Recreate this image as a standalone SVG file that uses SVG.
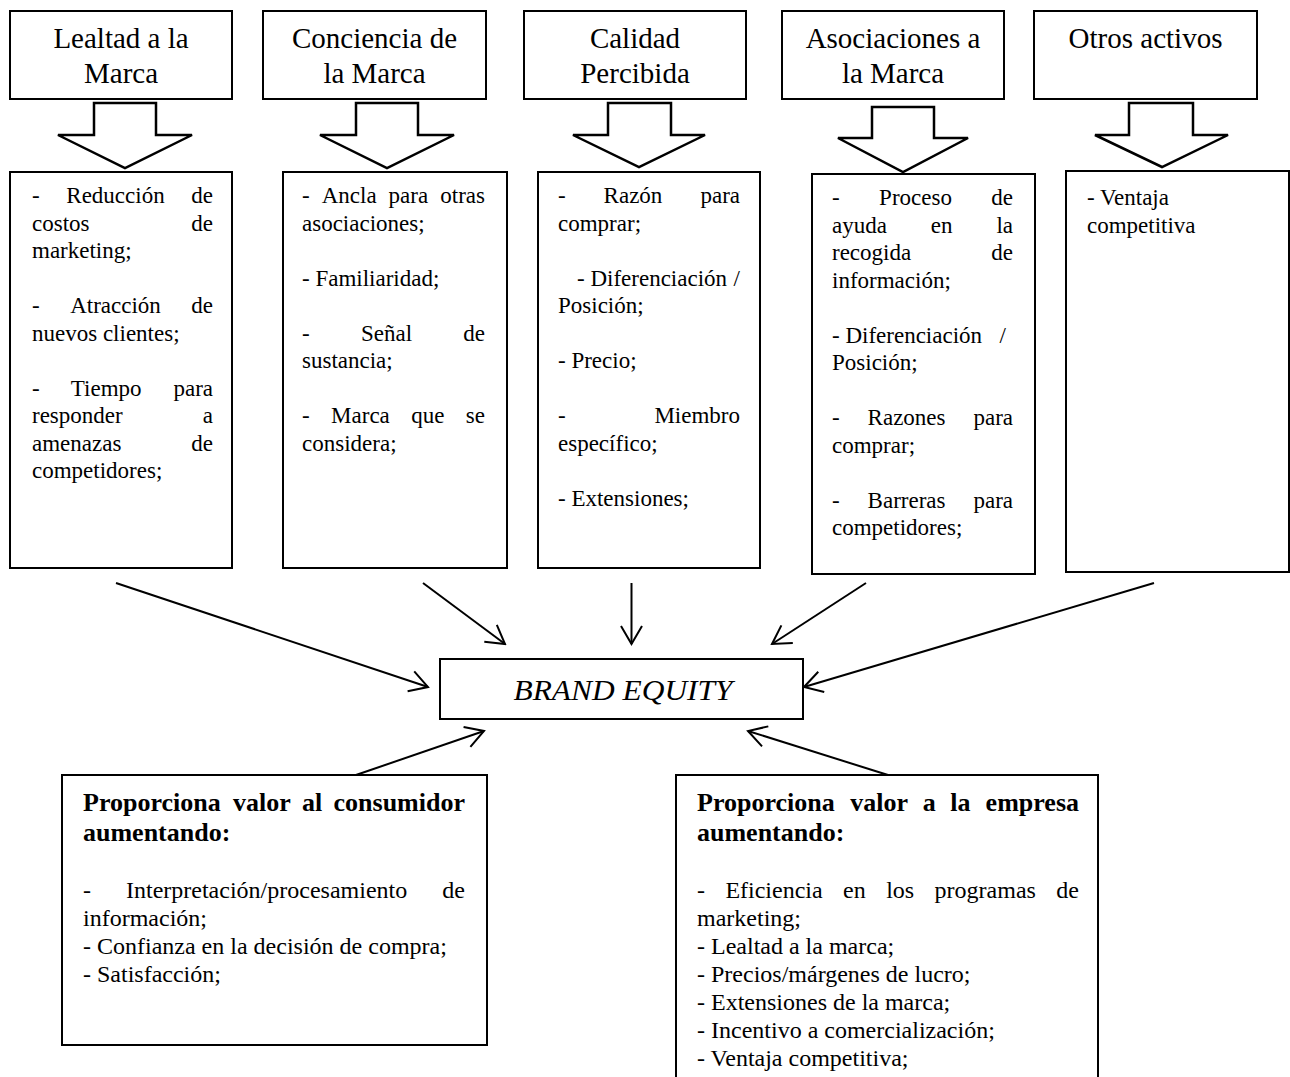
<svg xmlns="http://www.w3.org/2000/svg" width="1290" height="1077" viewBox="0 0 1290 1077">
  <style>
    text { font-family: "Liberation Serif", "Times New Roman", serif; fill: #000; }
    .title { font-size: 29px; text-anchor: middle; }
    .body { font-size: 23px; }
    .body2 { font-size: 24px; }
    .head { font-size: 26px; font-weight: bold; }
    .end { text-anchor: end; }
    .box { fill: #fff; stroke: #000; stroke-width: 2; }
    .blk { fill: #fff; stroke: #000; stroke-width: 2.5; stroke-linejoin: miter; }
    .con { fill: none; stroke: #000; stroke-width: 2; marker-end: url(#open); }
    .equity { font-size: 30px; font-style: italic; text-anchor: middle; }
  </style>
  <defs>
    <marker id="open" markerUnits="userSpaceOnUse" viewBox="0 0 22 26" refX="20" refY="13" markerWidth="22" markerHeight="26" orient="auto">
      <path d="M2,2.5 L20,13 L2,23.5" fill="none" stroke="#000" stroke-width="2"/>
    </marker>
  </defs>
  <rect width="1290" height="1077" fill="#fff"/>

  <!-- Column 1: Lealtad a la Marca -->
  <g id="lealtad">
    <rect class="box" x="10" y="11" width="222" height="88"/>
    <text class="title" x="121" y="48">Lealtad a la</text>
    <text class="title" x="121" y="83">Marca</text>
    <polygon class="blk" points="94,103 156,103 156,135 192,135 125,168 58,135 94,135"/>
    <rect class="box" x="10" y="172" width="222" height="396"/>
    <g class="body">
      <text x="32" y="203">-</text><text x="66.3" y="203">Reducción</text><text class="end" x="213" y="203">de</text>
      <text x="32" y="230.5">costos</text><text class="end" x="213" y="230.5">de</text>
      <text x="32" y="258">marketing;</text>
      <text x="32" y="313">-</text><text x="70.2" y="313">Atracción</text><text class="end" x="213" y="313">de</text>
      <text x="32" y="340.5">nuevos clientes;</text>
      <text x="32" y="395.5">-</text><text x="70.8" y="395.5">Tiempo</text><text class="end" x="213" y="395.5">para</text>
      <text x="32" y="423">responder</text><text class="end" x="213" y="423">a</text>
      <text x="32" y="450.5">amenazas</text><text class="end" x="213" y="450.5">de</text>
      <text x="32" y="478">competidores;</text>
    </g>
  </g>

  <!-- Column 2: Conciencia de la Marca -->
  <g id="conciencia">
    <rect class="box" x="263" y="11" width="223" height="88"/>
    <text class="title" x="374.5" y="48">Conciencia de</text>
    <text class="title" x="374.5" y="83">la Marca</text>
    <polygon class="blk" points="356,103 418,103 418,135 454,135 387,168 320,135 356,135"/>
    <rect class="box" x="283" y="172" width="224" height="396"/>
    <g class="body">
      <text x="302" y="203">-</text><text x="321.7" y="203">Ancla</text><text x="388.6" y="203">para</text><text class="end" x="485" y="203">otras</text>
      <text x="302" y="230.5">asociaciones;</text>
      <text x="302" y="285.5">- Familiaridad;</text>
      <text x="302" y="340.5">-</text><text x="361" y="340.5">Señal</text><text class="end" x="485" y="340.5">de</text>
      <text x="302" y="368">sustancia;</text>
      <text x="302" y="423">-</text><text x="331.1" y="423">Marca</text><text x="411.2" y="423">que</text><text class="end" x="485" y="423">se</text>
      <text x="302" y="450.5">considera;</text>
    </g>
  </g>

  <!-- Column 3: Calidad Percibida -->
  <g id="calidad">
    <rect class="box" x="524" y="11" width="222" height="88"/>
    <text class="title" x="635" y="48">Calidad</text>
    <text class="title" x="635" y="83">Percibida</text>
    <polygon class="blk" points="608,103 671,103 671,135 705,135 639,167 573,135 608,135"/>
    <rect class="box" x="538" y="172" width="222" height="396"/>
    <g class="body">
      <text x="558" y="203">-</text><text x="603.6" y="203">Razón</text><text class="end" x="740" y="203">para</text>
      <text x="558" y="230.5">comprar;</text>
      <text x="577" y="285.5">- Diferenciación</text><text class="end" x="740" y="285.5">/</text>
      <text x="558" y="313">Posición;</text>
      <text x="558" y="368">- Precio;</text>
      <text x="558" y="423">-</text><text class="end" x="740" y="423">Miembro</text>
      <text x="558" y="450.5">específico;</text>
      <text x="558" y="505.5">- Extensiones;</text>
    </g>
  </g>

  <!-- Column 4: Asociaciones a la Marca -->
  <g id="asociaciones">
    <rect class="box" x="782" y="11" width="222" height="88"/>
    <text class="title" x="893" y="48">Asociaciones a</text>
    <text class="title" x="893" y="83">la Marca</text>
    <polygon class="blk" points="872,107 934,107 934,138 968,138 903,172 838,138 872,138"/>
    <rect class="box" x="812" y="174" width="223" height="400"/>
    <g class="body">
      <text x="832" y="205">-</text><text x="879.1" y="205">Proceso</text><text class="end" x="1013" y="205">de</text>
      <text x="832" y="232.5">ayuda</text><text x="930.8" y="232.5">en</text><text class="end" x="1013" y="232.5">la</text>
      <text x="832" y="260">recogida</text><text class="end" x="1013" y="260">de</text>
      <text x="832" y="287.5">información;</text>
      <text x="832" y="342.5">- Diferenciación</text><text class="end" x="1006" y="342.5">/</text>
      <text x="832" y="370">Posición;</text>
      <text x="832" y="425">-</text><text x="867.6" y="425">Razones</text><text class="end" x="1013" y="425">para</text>
      <text x="832" y="452.5">comprar;</text>
      <text x="832" y="507.5">-</text><text x="867.6" y="507.5">Barreras</text><text class="end" x="1013" y="507.5">para</text>
      <text x="832" y="535">competidores;</text>
    </g>
  </g>

  <!-- Column 5: Otros activos -->
  <g id="otros">
    <rect class="box" x="1034" y="11" width="223" height="88"/>
    <text class="title" x="1145.5" y="48">Otros activos</text>
    <polygon class="blk" points="1129,103 1193,103 1193,135 1228,135 1162,167 1095,135 1129,135"/>
    <rect class="box" x="1066" y="171" width="223" height="401"/>
    <g class="body">
      <text x="1087" y="205">- Ventaja</text>
      <text x="1087" y="232.5">competitiva</text>
    </g>
  </g>

  <!-- Central node -->
  <g id="brand-equity">
    <rect class="box" x="440" y="659" width="363" height="60"/>
    <text class="equity" x="623" y="700" textLength="219" lengthAdjust="spacingAndGlyphs">BRAND EQUITY</text>
  </g>

  <!-- Value to the consumer -->
  <g id="valor-consumidor">
    <rect class="box" x="62" y="775" width="425" height="270"/>
    <g class="head">
      <text x="83" y="811">Proporciona</text><text x="233" y="811">valor</text><text x="302.1" y="811">al</text><text class="end" x="465" y="811">consumidor</text>
      <text x="83" y="841">aumentando:</text>
    </g>
    <g class="body2">
      <text x="83" y="898">-</text><text x="126" y="898">Interpretación/procesamiento</text><text class="end" x="465" y="898">de</text>
      <text x="83" y="926">información;</text>
      <text x="83" y="954">- Confianza en la decisión de compra;</text>
      <text x="83" y="982">- Satisfacción;</text>
    </g>
  </g>

  <!-- Value to the company -->
  <g id="valor-empresa">
    <rect class="box" x="676" y="775" width="422" height="320"/>
    <g class="head">
      <text x="697" y="811">Proporciona</text><text x="850.3" y="811">valor</text><text x="922.7" y="811">a</text><text x="950.3" y="811">la</text><text class="end" x="1079" y="811">empresa</text>
      <text x="697" y="841">aumentando:</text>
    </g>
    <g class="body2">
      <text x="697" y="898">-</text><text x="725.4" y="898">Eficiencia</text><text x="843.1" y="898">en</text><text x="886.2" y="898">los</text><text x="934.6" y="898">programas</text><text class="end" x="1079" y="898">de</text>
      <text x="697" y="926">marketing;</text>
      <text x="697" y="954">- Lealtad a la marca;</text>
      <text x="697" y="982">- Precios/márgenes de lucro;</text>
      <text x="697" y="1010">- Extensiones de la marca;</text>
      <text x="697" y="1038">- Incentivo a comercialización;</text>
      <text x="697" y="1066">- Ventaja competitiva;</text>
    </g>
  </g>

  <!-- Connectors into BRAND EQUITY -->
  <g id="connectors">
    <line class="con" x1="116" y1="583" x2="428" y2="687"/>
    <line class="con" x1="423" y1="583" x2="505" y2="644"/>
    <line class="con" x1="631.5" y1="583" x2="631.5" y2="644"/>
    <line class="con" x1="866" y1="583" x2="772" y2="644"/>
    <line class="con" x1="1154" y1="583" x2="804" y2="687"/>
    <line class="con" x1="356" y1="775" x2="484" y2="731"/>
    <line class="con" x1="888" y1="775" x2="748" y2="731"/>
  </g>
</svg>
